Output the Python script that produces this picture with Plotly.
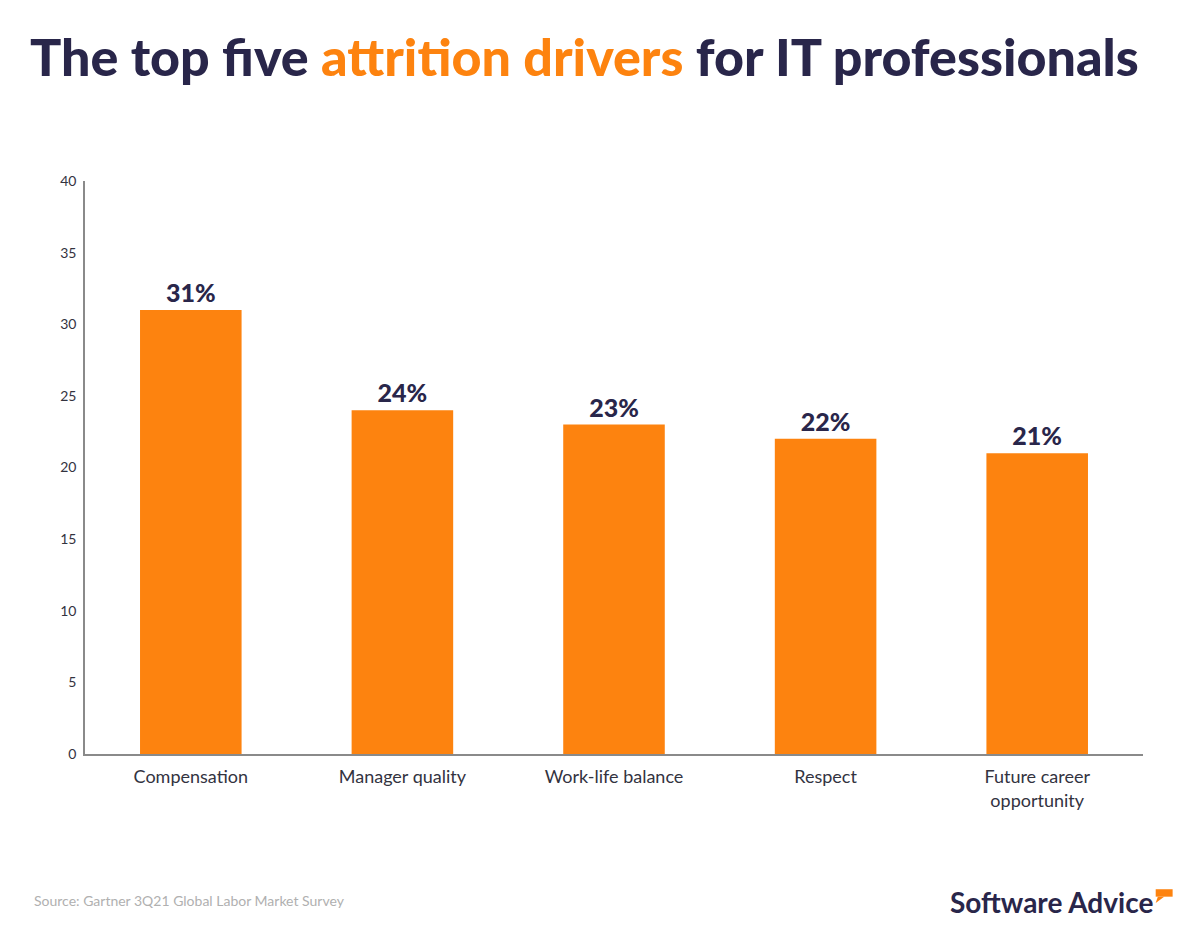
import plotly.graph_objects as go

categories = ["Compensation", "Manager quality", "Work-life balance", "Respect", "Future career<br>opportunity"]
values = [31, 24, 23, 22, 21]
labels = ["31%", "24%", "23%", "22%", "21%"]
y_ticks = [0, 5, 10, 15, 20, 25, 30, 35, 40]

NAVY = "#29264a"
ORANGE = "#fd830f"

fig = go.Figure()
fig.add_trace(go.Bar(
    x=categories, y=values, width=0.48,
    marker=dict(color=ORANGE, line=dict(width=0)),
    text=labels, textposition="outside", cliponaxis=False,
    textfont=dict(family="Lato", size=25, color=NAVY, weight=900),
    hoverinfo="skip",
))

fig.update_layout(
    width=1200, height=950,
    margin=dict(l=85, r=57, t=181, b=196),
    paper_bgcolor="white", plot_bgcolor="white",
    showlegend=False,
    font=dict(family="Lato", color="#3a3a4a"),
    title=dict(
        text=f"The top five <span style='color:{ORANGE}'>attrition drivers</span> for IT professionals",
        x=0.487, xanchor="center", y=0.939, yanchor="middle",
        font=dict(family="Lato", size=52, color=NAVY, weight=900),
    ),
    xaxis=dict(
        showline=True, linecolor="#8a8a8a", linewidth=1.5,
        ticks="", tickfont=dict(size=18, color="#33333f"),
        showgrid=False, fixedrange=True, ticklabelstandoff=6,
    ),
    yaxis=dict(
        range=[0, 40], tickvals=y_ticks,
        showline=True, linecolor="#8a8a8a", linewidth=1.5,
        ticks="", tickfont=dict(size=14, color="#33333f"),
        showgrid=False, zeroline=False, ticklabelstandoff=4,
    ),
    annotations=[
        dict(text="Source: Gartner 3Q21 Global Labor Market Survey",
             xref="paper", yref="paper", x=-0.05, y=-0.255,
             xanchor="left", yanchor="middle", showarrow=False,
             font=dict(family="Lato", size=14, color="#b0b0b0")),
        dict(text="<b>Software Advice</b>",
             xref="paper", yref="paper", x=1.0113, y=-0.258,
             xanchor="right", yanchor="middle", showarrow=False,
             font=dict(family="Lato", size=28, color=NAVY, weight=900)),
    ],
    shapes=[
        dict(type="rect", xref="paper", yref="paper",
             x0=1.012, x1=1.028, y0=-0.249, y1=-0.236,
             fillcolor=ORANGE, line=dict(width=0)),
        dict(type="path", xref="paper", yref="paper",
             path="M 1.014 -0.249 L 1.02 -0.249 L 1.012 -0.26 Z",
             fillcolor=ORANGE, line=dict(width=0)),
    ],
)

fig.write_html("out.html")
